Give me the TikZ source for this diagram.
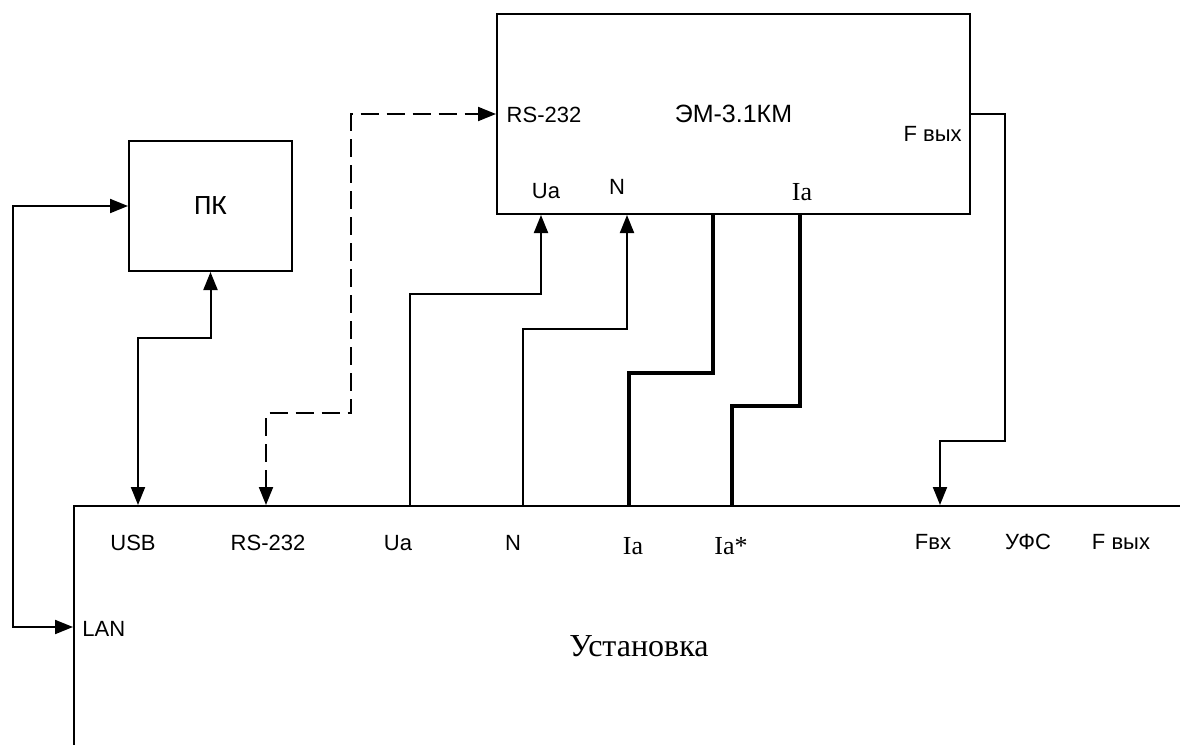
\documentclass[tikz,border=0pt]{standalone}
\usepackage{fontspec}
\setmainfont{Liberation Serif}
\setsansfont{Liberation Sans}
\newfontfamily\pcfont{Carlito}
\usetikzlibrary{arrows.meta}

\begin{document}
\begin{tikzpicture}[x=0.5pt, y=-0.5pt,
    box/.style={draw, line width=1pt, inner sep=0pt},
    wire/.style={line width=1pt},
    heavy/.style={line width=2pt},
    arr/.style={-{Triangle[length=9pt,width=7pt]}},
    twoarr/.style={{Triangle[length=9pt,width=7pt]}-{Triangle[length=9pt,width=7pt]}},
    lbl/.style={font=\sffamily\fontsize{11}{13}\selectfont, inner sep=0pt},
    slbl/.style={font=\rmfamily\fontsize{13}{15}\selectfont, inner sep=0pt}]
    \useasboundingbox (0,0) rectangle (1180,745);

    % ЭМ-3.1КМ
    \node[box, minimum width=236.5pt, minimum height=100pt,
          font=\sffamily\fontsize{12.5}{15}\selectfont] (em) at (733.5,114) {ЭМ-3.1КМ};
    \node[lbl] (emRs) at (544,115) {RS-232};
    \node[lbl, anchor=east] (emFout) at (962,134) {F вых};
    \node[lbl] (emUa) at (546,191) {Ua};
    \node[lbl] (emN) at (617,187) {N};
    \node[slbl] (emIa) at (802,192) {Ia};

    % ПК
    \node[box, minimum width=81.5pt, minimum height=65pt,
          font=\pcfont\fontsize{14}{16}\selectfont] (pc) at (210.5,206) {ПК};

    % Установка (open to the right and below)
    \node[box, anchor=north west, minimum width=700pt, minimum height=200pt] (ust) at (73,505) {};
    \node[font=\rmfamily\fontsize{16}{18}\selectfont, inner sep=0pt] (ustName) at (639,646) {Установка};
    \node[lbl] (usb) at (133,543) {USB};
    \node[lbl] (rs) at (268,543) {RS-232};
    \node[lbl] (ua) at (398,543) {Ua};
    \node[lbl] (n) at (513,543) {N};
    \node[slbl] (ia) at (633,546) {Ia};
    \node[slbl] (iaStar) at (731,546) {Ia*};
    \node[lbl] (fin) at (933,542) {Fвх};
    \node[lbl] (ufs) at (1028,542) {УФС};
    \node[lbl] (fout) at (1121,542) {F вых};
    \node[lbl, anchor=west] (lan) at (82,629) {LAN};

    % LAN
    \draw[wire, twoarr] (pc.west) -| (13,627) -- (ust.west |- 0,627);
    % USB
    \draw[wire, twoarr] (ust.north -| 138,0) |- (pc.south |- 0,338) -- (pc.south);
    % RS-232
    \draw[wire, twoarr, dash pattern=on 9pt off 4pt] (ust.north -| 266,0) |- (351,413) |- (em.west |- 0,114);
    % Ua, N
    \draw[wire, arr] (ust.north -| 410,0) |- (541,294) -- (em.south -| 541,0);
    \draw[wire, arr] (ust.north -| 523,0) |- (627,329) -- (em.south -| 627,0);
    % Ia, Ia*
    \draw[heavy] (em.south -| 713,0) |- (629,373) -- (ust.north -| 629,0);
    \draw[heavy] (em.south -| 800,0) |- (732,406) -- (ust.north -| 732,0);
    % F вых -> Fвх
    \draw[wire, arr] (em.east |- 0,114) -| (1005,441) -| (ust.north -| 940,0);
\end{tikzpicture}
\end{document}
